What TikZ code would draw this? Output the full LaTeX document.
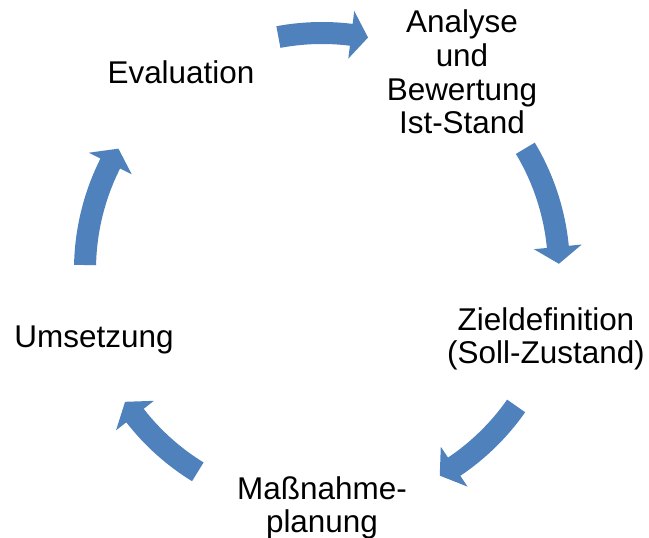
\documentclass[tikz,border=0pt]{standalone}
\usepackage{fontspec}
\setmainfont{Liberation Sans}
\usepackage{tikz}
\definecolor{cycleblue}{RGB}{79, 129, 189}

\begin{document}
\begin{tikzpicture}[
        scale=0.02,
        label/.style={align=center, inner sep=0pt, font=\fontsize{17.9}{19.1}\selectfont},
        cyclearrow/.style={fill=cycleblue, draw=none}
    ]
        \useasboundingbox (-322,-268) rectangle (327,270);

        \node[label] (analyse) at (140,198) {Analyse\\und\\Bewertung\\Ist-Stand};
        \node[label] (ziel) at (224,-69) {Zieldefinition\\(Soll-Zustand)};
        \node[label] (massnahme) at (0,-238) {Maßnahme-\\planung};
        \node[label] (umsetzung) at (-228,-70) {Umsetzung};
        \node[label] (evaluation) at (-141,198) {Evaluation};

        % block arrows on the circle: tail angle / tip angle
        \foreach \a/\c in {100.6/78.8, 30.9/1.5, -35/-60.2, -121.6/-146.2, 178.8/149.2} {
            \pgfmathsetmacro{\b}{\c+4.1*sign(\a-\c)}
            \fill[cyclearrow] (\a:248) arc[start angle=\a, end angle=\b, radius=248]
                -- (\b:261) -- (\c:237) -- (\b:213) -- (\b:226)
                arc[start angle=\b, end angle=\a, radius=226] -- cycle;
        }
    \end{tikzpicture}
\end{document}
